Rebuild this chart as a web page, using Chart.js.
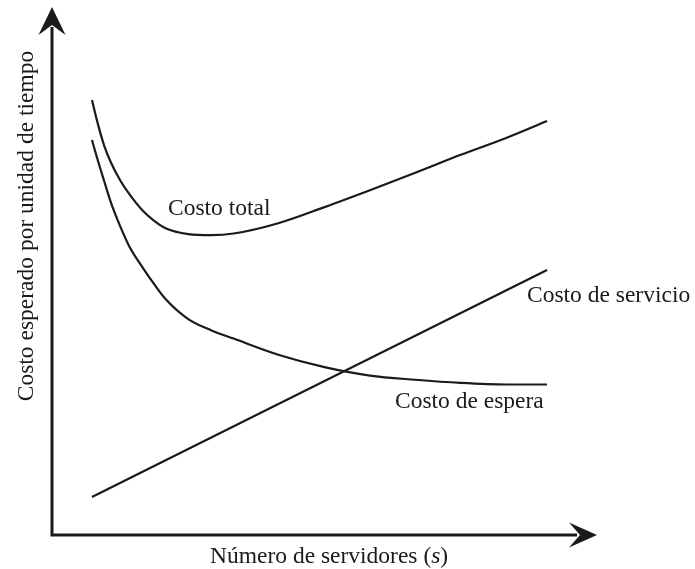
<!DOCTYPE html>
<html>
<head>
<meta charset="utf-8">
<script src="https://cdn.jsdelivr.net/npm/chart.js@4"></script>
<style>
  html, body { margin: 0; padding: 0; background: #fff; }
  #wrap { width: 695px; height: 569px; }
</style>
</head>
<body>
<div id="wrap"><canvas id="costChart" width="695" height="569"></canvas></div>
<script>
// Number of servers (x) where the curves were sampled
const servers = [0.88, 1.0, 1.15, 1.3, 1.5, 1.7, 2, 2.25, 2.5, 3, 3.5, 4, 5, 6, 7, 8, 9, 10, 10.9];
// Expected cost per unit of time
const waitingCost = [74.8, 71.2, 67.0, 62.9, 58.5, 54.7, 50.6, 47.5, 44.7, 40.9, 38.8, 37.2, 34.1, 31.8, 30.2, 29.4, 28.8, 28.5, 28.5];
const totalCost = [82.4, 78.2, 73.7, 70.5, 67.2, 64.6, 61.4, 59.5, 58.1, 57.0, 56.8, 57.1, 59.1, 62.1, 65.3, 68.6, 72.0, 75.2, 78.4];
const serviceServers = [0.88, 10.9];
const serviceCost = [7.2, 50.2];

const xTitle = 'Número de servidores (';
const yTitle = 'Costo esperado por unidad de tiempo';
const serif = "'Liberation Serif', 'Times New Roman', serif";
const ink = '#1a1a1a';

function toPoints(xs, ys) {
    return xs.map(function (x, i) { return { x: x, y: ys[i] }; });
}

// axes with notched arrowheads plus the text labels
const decorations = {
    id: 'decorations',
    afterDraw: function (chart) {
        const ctx = chart.ctx;
        const a = chart.chartArea;
        ctx.save();
        ctx.strokeStyle = ink;
        ctx.fillStyle = ink;
        ctx.lineWidth = 3;
        ctx.beginPath();
        ctx.moveTo(a.left, a.top + 20);
        ctx.lineTo(a.left, a.bottom);
        ctx.lineTo(a.right - 20, a.bottom);
        ctx.stroke();

        // y arrow
        ctx.beginPath();
        ctx.moveTo(a.left, a.top);
        ctx.lineTo(a.left + 13.5, a.top + 28);
        ctx.lineTo(a.left, a.top + 18);
        ctx.lineTo(a.left - 13.5, a.top + 28);
        ctx.closePath();
        ctx.fill();
        // x arrow
        ctx.beginPath();
        ctx.moveTo(a.right, a.bottom);
        ctx.lineTo(a.right - 28, a.bottom - 12.5);
        ctx.lineTo(a.right - 17, a.bottom);
        ctx.lineTo(a.right - 28, a.bottom + 12.5);
        ctx.closePath();
        ctx.fill();

        const font = '23.5px ' + serif;
        ctx.font = font;
        ctx.textBaseline = 'alphabetic';
        ctx.textAlign = 'left';
        ctx.fillText('Costo total', 168, 215);
        ctx.fillText('Costo de servicio', 527, 302);
        ctx.fillText('Costo de espera', 395, 408);

        // x title with italic s
        let x = 210;
        ctx.fillText(xTitle, x, 563);
        x += ctx.measureText(xTitle).width;
        ctx.font = 'italic ' + font;
        ctx.fillText('s', x, 563);
        x += ctx.measureText('s').width;
        ctx.font = font;
        ctx.fillText(')', x, 563);

        // y title
        ctx.translate(33, 226);
        ctx.rotate(-Math.PI / 2);
        ctx.textAlign = 'center';
        ctx.fillText(yTitle, 0, 0);
        ctx.restore();
    }
};

const ctxCost = document.getElementById('costChart').getContext('2d');
new Chart(ctxCost, {
    type: 'line',
    data: {
        datasets: [
            { label: 'Costo total', data: toPoints(servers, totalCost), borderColor: ink },
            { label: 'Costo de espera', data: toPoints(servers, waitingCost), borderColor: ink },
            { label: 'Costo de servicio', data: toPoints(serviceServers, serviceCost), borderColor: ink, tension: 0 }
        ]
    },
    options: {
        responsive: false,
        animation: false,
        devicePixelRatio: 1,
        layout: { padding: { left: 52, right: 98, top: 7, bottom: 34 } },
        datasets: {
            line: {
                borderWidth: 2.2,
                pointRadius: 0,
                fill: false,
                cubicInterpolationMode: 'monotone'
            }
        },
        plugins: { colors: { enabled: false }, legend: { display: false }, tooltip: { enabled: false } },
        scales: {
            x: { type: 'linear', min: 0, max: 12, display: false },
            y: { min: 0, max: 100, display: false }
        }
    },
    plugins: [decorations]
});
</script>
</body>
</html>
